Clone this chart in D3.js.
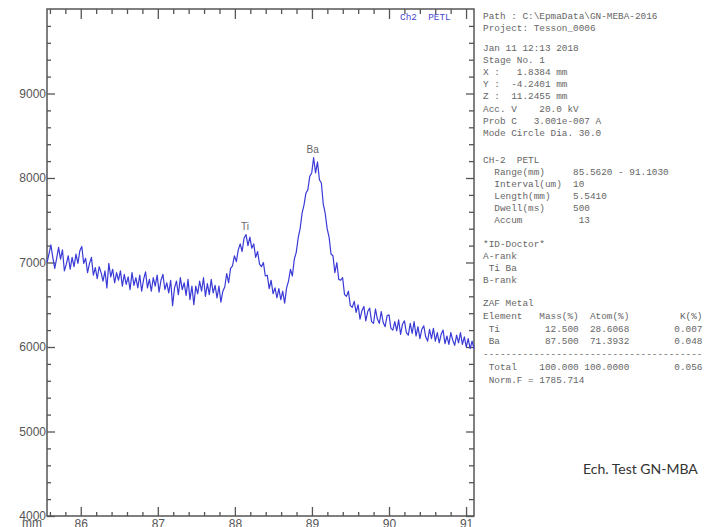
<!DOCTYPE html>
<head>
  <meta charset="utf-8">
  <script src="https://d3js.org/d3.v7.min.js"></script>
  <style>
    body { margin:0; background:#fff; }
    svg { display:block; }
    .axis text { font-family: "Liberation Sans Narrow", "Liberation Sans", Arial, sans-serif; font-size: 12px; fill: #555; }
    .axis line { stroke: #555; stroke-width: 1.3px; }
    .axis path { display: none; }
    .info { font-family: "Liberation Mono", "DejaVu Sans Mono", monospace; font-size: 9.4px; fill: #666; white-space: pre; }
    .peak { font-family: "Liberation Sans", Arial, sans-serif; font-size: 10px; fill: #666; text-anchor: middle; }
  </style>
</head>
<body>
<script>

// scan: CH-2 PETL, 85.562 - 91.103 mm
var scanStart = 85.562;
var scanEnd = 91.103;

// counts, left to right
var counts = [
  7000, 7100, 7210, 7060, 6930, 7050, 7180, 7040, 7150, 6900,
  6980, 7080, 6920, 7060, 6950, 7100, 6990, 7140, 7190, 6990,
  7050, 6880, 6990, 7060, 6850, 6940, 6810, 6950, 6880, 6780,
  6900, 6700, 6990, 6830, 6920, 6760, 6880, 6790, 6900, 6720,
  6860, 6740, 6830, 6680, 6880, 6730, 6820, 6700, 6850, 6660,
  6800, 6890, 6700, 6800, 6660, 6820, 6720, 6850, 6650, 6790,
  6860, 6680, 6760, 6640, 6790, 6490, 6700, 6780, 6620, 6820,
  6680, 6760, 6610, 6800, 6560, 6720, 6500, 6720, 6630, 6780,
  6660, 6820, 6600, 6750, 6620, 6800, 6640, 6730, 6580, 6720,
  6530, 6660, 6710, 6870, 6760, 6930, 6960, 7080, 7010, 7150,
  7220, 7130, 7290, 7330, 7200, 7300, 7170, 7220, 7060, 7130,
  6980, 6950, 7000, 6840, 6850, 6690, 6790, 6630, 6700, 6580,
  6690, 6560, 6660, 6520, 6700, 6780, 6920, 6840, 7040, 7120,
  7290, 7400, 7580, 7680, 7820, 7860, 8020, 8060, 8240, 8060,
  8190, 7980, 7940, 7690, 7580, 7400, 7300, 7100, 7080, 6880,
  7000, 6800, 6790, 6820, 6620, 6600, 6660, 6490, 6470, 6540,
  6410, 6500, 6330, 6430, 6480, 6310, 6420, 6460, 6300, 6280,
  6450, 6330, 6280, 6420, 6290, 6240, 6370, 6380, 6220, 6200,
  6300, 6190, 6320, 6150, 6270, 6310, 6170, 6140, 6280, 6160,
  6300, 6130, 6240, 6100, 6210, 6250, 6120, 6070, 6210, 6100,
  6220, 6070, 6170, 6050, 6150, 6200, 6040, 6130, 6030, 6170,
  6080, 6020, 6140, 6050, 6170, 6030, 6120, 6000, 6100, 5980,
  6070, 5980
];

var xMajor = [86, 87, 88, 89, 90, 91];
var yMajor = [4000, 5000, 6000, 7000, 8000, 9000];

var peakNames = ["Ti", "Ba"];
var peakMm = [88.13, 89.01];

var infoHead = ["Path : C:\\EpmaData\\GN-MEBA-2016", "Project: Tesson_0006"];
var infoStage = ["Jan 11 12:13 2018", "Stage No. 1", "X :   1.8384 mm", "Y :  -4.2401 mm",
  "Z :  11.2455 mm", "Acc. V    20.0 kV", "Prob C   3.001e-007 A", "Mode Circle Dia. 30.0"];
var infoScan = ["CH-2  PETL", "  Range(mm)     85.5620 - 91.1030", "  Interval(um)  10",
  "  Length(mm)    5.5410", "  Dwell(ms)     500", "  Accum          13"];
var infoId = ["*ID-Doctor*", "A-rank", " Ti Ba", "B-rank"];
var infoZaf = ["ZAF Metal",
  "Element   Mass(%)  Atom(%)         K(%)",
  " Ti        12.500  28.6068        0.007",
  " Ba        87.500  71.3932        0.048",
  "---------------------------------------",
  " Total    100.000 100.0000        0.056",
  " Norm.F = 1785.714"];

var width = 705, height = 527;
var svg = d3.select("body").append("svg")
    .attr("width", width).attr("height", height);

var x = d3.scaleLinear().domain([scanStart, scanEnd]).range([47, 474]);
var y = d3.scaleLinear().domain([4000, 10000]).range([516, 9]);

var step = (scanEnd - scanStart) / (counts.length - 1);
var pts = counts.map(function(c, i) { return [scanStart + i * step, c]; });

var xMinor = d3.range(85.6, 91.1, 0.2).filter(function(v) { return Math.abs(v - Math.round(v)) > 0.05; });
var yMinor = d3.range(4200, 10000, 200).filter(function(v) { return v % 1000 != 0; });

// minor ticks, all four sides
svg.append("g").attr("class", "axis").attr("transform", "translate(0,516)")
   .call(d3.axisBottom(x).tickValues(xMinor).tickSize(-4).tickSizeOuter(0).tickFormat(""));
svg.append("g").attr("class", "axis").attr("transform", "translate(0,9)")
   .call(d3.axisTop(x).tickValues(xMinor).tickSize(-5).tickSizeOuter(0).tickFormat(""));
svg.append("g").attr("class", "axis").attr("transform", "translate(47,0)")
   .call(d3.axisLeft(y).tickValues(yMinor).tickSize(-4).tickSizeOuter(0).tickFormat(""));
svg.append("g").attr("class", "axis").attr("transform", "translate(474,0)")
   .call(d3.axisRight(y).tickValues(yMinor).tickSize(-5).tickSizeOuter(0).tickFormat(""));

// major ticks
svg.append("g").attr("class", "axis").attr("transform", "translate(0,516)")
   .call(d3.axisBottom(x).tickValues(xMajor).tickSize(-9).tickSizeOuter(0).tickPadding(3).tickFormat(d3.format("d")));
svg.append("g").attr("class", "axis").attr("transform", "translate(0,9)")
   .call(d3.axisTop(x).tickValues(xMajor).tickSize(-10).tickSizeOuter(0).tickFormat(""));
svg.append("g").attr("class", "axis").attr("transform", "translate(47,0)")
   .call(d3.axisLeft(y).tickValues(yMajor).tickSize(-8).tickSizeOuter(0).tickPadding(1).tickFormat(d3.format("d")));
svg.append("g").attr("class", "axis").attr("transform", "translate(474,0)")
   .call(d3.axisRight(y).tickValues(yMajor).tickSize(-8).tickSizeOuter(0).tickFormat(""));

svg.append("text")
   .attr("x", 32).attr("y", 527).attr("text-anchor", "middle")
   .style("font-family", "'Liberation Sans Narrow', 'Liberation Sans', Arial, sans-serif")
   .style("font-size", "12px").style("fill", "#555")
   .text("mm");

// frame
svg.append("rect")
   .attr("x", 47).attr("y", 9).attr("width", 427).attr("height", 507)
   .attr("fill", "none").attr("stroke", "#555").attr("stroke-width", 1.5);

// spectrum
var line = d3.line()
   .x(function(d) { return x(d[0]); })
   .y(function(d) { return y(d[1]); });

svg.append("path")
   .datum(pts)
   .attr("d", line)
   .attr("fill", "none")
   .attr("stroke", "#3a3ad6")
   .attr("stroke-width", 1.2)
   .attr("stroke-linejoin", "round");

// peak labels above local maximum
peakNames.forEach(function(name, k) {
  var near = pts.filter(function(p) { return Math.abs(p[0] - peakMm[k]) < 0.06; });
  var top = d3.max(near, function(p) { return p[1]; });
  svg.append("text").attr("class", "peak")
     .attr("x", x(peakMm[k])).attr("y", y(top) - 5)
     .text(name);
});

svg.append("text").attr("class", "info")
   .attr("x", 400).attr("y", 20)
   .style("fill", "#4a4ad0")
   .text("Ch2  PETL");

// info block on the right
function block(lines, y0, lh) {
  svg.append("g").selectAll("text")
     .data(lines).enter().append("text")
     .attr("class", "info")
     .attr("x", 483)
     .attr("y", function(d, i) { return y0 + i * lh; })
     .text(function(d) { return d; });
}
block(infoHead, 19, 12);
block(infoStage, 51, 12.1);
block(infoScan, 163, 12);
block(infoId, 247, 12);
block(infoZaf, 306, 12.8);

svg.append("text")
   .attr("x", 583).attr("y", 474)
   .style("font-family", "Lato, 'Open Sans', sans-serif")
   .style("font-size", "14px")
   .style("fill", "#333")
   .text("Ech. Test GN-MBA");

</script>
</body>
